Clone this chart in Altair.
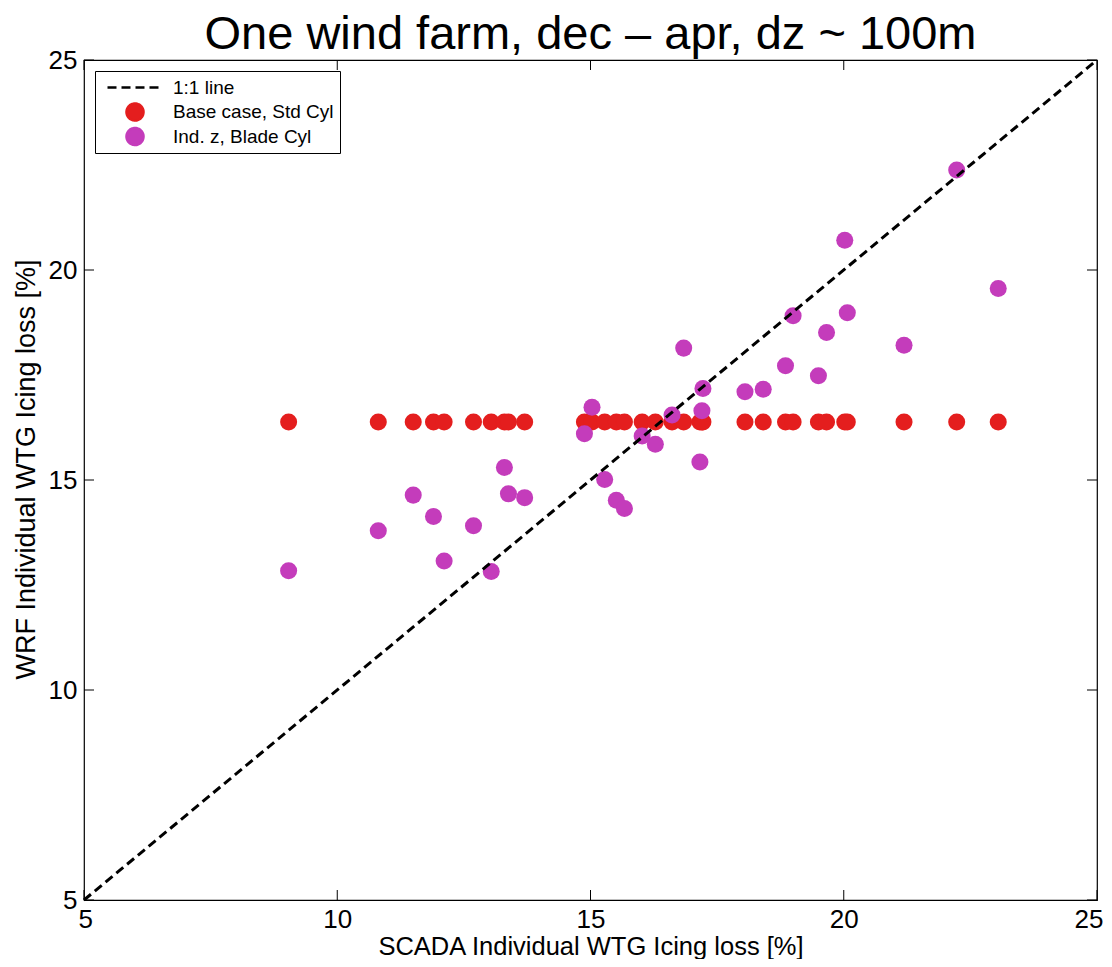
import altair as alt
import pandas as pd

# ---- data ----
series_names = ["1:1 line", "Base case, Std Cyl", "Ind. z, Blade Cyl"]
series_colors = ["#000000", "#E41E1E", "#C43CBB"]

scada_loss = [9.04, 10.81, 11.50, 11.90, 12.11, 12.69, 13.04, 13.30, 13.38, 13.70,
              14.88, 15.03, 15.28, 15.51, 15.67, 16.02, 16.28, 16.61, 16.84, 17.16,
              17.20, 17.22, 18.05, 18.41, 18.85, 19.00, 19.50, 19.66, 20.02, 20.07,
              21.19, 22.23, 23.05]
wrf_base = [16.38, 16.38, 16.38, 16.38, 16.38, 16.38, 16.38, 16.38, 16.38, 16.38,
            16.38, 16.38, 16.38, 16.38, 16.38, 16.38, 16.38, 16.38, 16.38, 16.38,
            16.38, 16.38, 16.38, 16.38, 16.38, 16.38, 16.38, 16.38, 16.38, 16.38,
            16.38, 16.38, 16.38]
wrf_blade = [12.84, 13.79, 14.64, 14.13, 13.07, 13.91, 12.82, 15.30, 14.67, 14.58,
             16.10, 16.73, 15.01, 14.52, 14.32, 16.05, 15.85, 16.55, 18.14, 15.43,
             16.65, 17.18, 17.10, 17.16, 17.72, 18.91, 17.48, 18.51, 20.71, 18.98,
             18.21, 22.38, 19.56]

line_x = [5, 25]
line_y = [5, 25]
tick_values = [5, 10, 15, 20, 25]

FONT = "Liberation Sans, Arial, Helvetica"
W, H = 1013, 840

points = pd.DataFrame({
    "scada": scada_loss + scada_loss,
    "wrf": wrf_base + wrf_blade,
    "series": [series_names[1]] * len(scada_loss) + [series_names[2]] * len(scada_loss),
    "order": [0] * len(scada_loss) + [1] * len(scada_loss),
})
line_df = pd.DataFrame({"scada": line_x, "wrf": line_y, "series": [series_names[0]] * 2})
ticks_df = pd.DataFrame({"v": tick_values})

xs = alt.Scale(domain=[5, 25], nice=False, zero=False)
ys = alt.Scale(domain=[5, 25], nice=False, zero=False)
color_scale = alt.Scale(domain=series_names, range=series_colors)
shape_scale = alt.Scale(domain=series_names, range=["stroke", "circle", "circle"])
size_scale = alt.Scale(type="ordinal", domain=series_names, range=[3025, 290, 290])
dash_scale = alt.Scale(domain=series_names, range=[[9, 5], [1, 0], [1, 0]])

legend = alt.Legend(
    title=None, orient="top-left", offset=11,
    fillColor="white", strokeColor="black", padding=6, cornerRadius=0,
    labelFont=FONT, labelFontSize=19, labelColor="black", labelLimit=400,
    labelOffset=9, symbolOffset=5, clipHeight=21, rowPadding=3.5,
    symbolStrokeWidth=2.5, symbolOpacity=1,
)

x_enc = alt.X("scada:Q", scale=xs, axis=alt.Axis(
    title="SCADA Individual WTG Icing loss [%]", values=tick_values, ticks=False,
    domain=False, grid=False, labelFlush=True, labelFlushOffset=6,
    labelPadding=6, titlePadding=2, titleFontSize=25.5))
y_enc = alt.Y("wrf:Q", scale=ys, axis=alt.Axis(
    title="WRF Individual WTG Icing loss [%]", values=tick_values, ticks=False,
    domain=False, grid=False, labelFlush=False, labelPadding=7, titlePadding=8,
    titleFontSize=27, titleY=409, titleAlign="center"))

pts = alt.Chart(points).mark_point(filled=True, opacity=1, strokeWidth=0).encode(
    x=x_enc, y=y_enc,
    color=alt.Color("series:N", scale=color_scale, legend=legend),
    shape=alt.Shape("series:N", scale=shape_scale, legend=legend),
    size=alt.Size("series:N", scale=size_scale, legend=legend),
    order=alt.Order("order:Q"),
)

one2one = alt.Chart(line_df).mark_line(strokeWidth=3).encode(
    x=alt.X("scada:Q", scale=xs), y=alt.Y("wrf:Q", scale=ys),
    color=alt.Color("series:N", scale=color_scale, legend=legend),
    strokeDash=alt.StrokeDash("series:N", scale=dash_scale, legend=legend),
)

tick_len = 10
xt_bottom = alt.Chart(ticks_df).mark_rule(color="black", strokeWidth=1).encode(
    x=alt.X("v:Q", scale=xs), y=alt.value(H), y2=alt.value(H - tick_len))
xt_top = alt.Chart(ticks_df).mark_rule(color="black", strokeWidth=1).encode(
    x=alt.X("v:Q", scale=xs), y=alt.value(0), y2=alt.value(tick_len))
yt_left = alt.Chart(ticks_df).mark_rule(color="black", strokeWidth=1).encode(
    y=alt.Y("v:Q", scale=ys), x=alt.value(0), x2=alt.value(tick_len))
yt_right = alt.Chart(ticks_df).mark_rule(color="black", strokeWidth=1).encode(
    y=alt.Y("v:Q", scale=ys), x=alt.value(W), x2=alt.value(W - tick_len))

chart = alt.layer(pts, one2one, xt_bottom, xt_top, yt_left, yt_right).properties(
    width=W, height=H,
    background="white",
    title=alt.TitleParams("One wind farm, dec \u2013 apr, dz ~ 100m", font=FONT,
                          fontSize=47, fontWeight="normal", color="black",
                          anchor="middle", frame="group", offset=-12),
    autosize=alt.AutoSizeParams(type="none"),
    padding={"left": 76, "top": 52, "right": 7, "bottom": 59},
).configure_view(stroke="black", strokeWidth=1.2).configure_axis(
    labelFont=FONT, titleFont=FONT, labelFontSize=26, titleFontSize=26,
    labelColor="black", titleColor="black", titleFontWeight="normal",
)

chart.save("out.html", embed_options={"renderer": "svg", "actions": False})
